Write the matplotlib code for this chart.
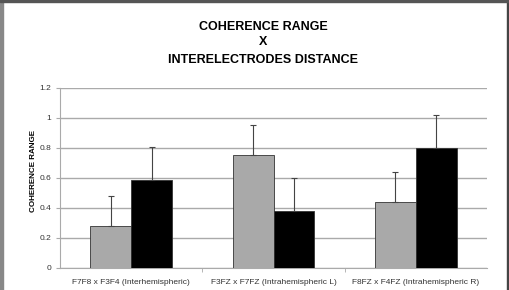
import numpy as np
import matplotlib.pyplot as plt
from matplotlib.patches import Rectangle

plt.rcParams['font.family'] = ['Liberation Sans', 'DejaVu Sans']

# data
groups = ['F7F8 x F3F4 (Interhemispheric)', 'F3FZ x F7FZ (Intrahemispheric L)',
          'F8FZ x F4FZ (Intrahemispheric R)']
grey_vals = [0.28, 0.75, 0.44]
grey_err = [0.20, 0.20, 0.20]
black_vals = [0.59, 0.38, 0.80]
black_err = [0.22, 0.22, 0.22]
yticks = [0, 0.2, 0.4, 0.6, 0.8, 1, 1.2]

fig = plt.figure(figsize=(5.1, 2.9), dpi=100)
ax = fig.add_axes([60/510, 22/290, 427/510, 180/290])

x = np.arange(len(groups))
w = 0.288
ekw = dict(ecolor='#444444', elinewidth=0.8, capsize=2.5, capthick=0.8)
ax.bar(x - w/2, grey_vals, w, color='#a9a9a9', edgecolor='#333333', lw=0.6,
       yerr=[np.zeros(3), grey_err], error_kw=ekw, zorder=3)
ax.bar(x + w/2, black_vals, w, color='black', edgecolor='#333333', lw=0.6,
       yerr=[np.zeros(3), black_err], error_kw=ekw, zorder=3)

ax.set_xlim(-0.5, 2.5)
ax.set_ylim(0, 1.2)
ax.set_yticks(yticks)
ax.set_yticklabels(['0', '0.2', '0.4', '0.6', '0.8', '1', '1.2'])
ax.yaxis.grid(True, color='#aaaaaa', lw=1.0, zorder=0)
ax.set_xticks(x)
ax.set_xticklabels(groups)
ax.set_xticks([0.5, 1.5], minor=True)
ax.tick_params(axis='x', which='major', length=0, labelsize=6, pad=8, colors='#333333')
ax.tick_params(axis='x', which='minor', length=3, color='#aaaaaa')
ax.tick_params(axis='y', length=3, color='#aaaaaa', labelsize=6, labelcolor='#333333')
for s in ['top', 'right']:
    ax.spines[s].set_visible(False)
for s in ['left', 'bottom']:
    ax.spines[s].set_color('#aaaaaa')
ax.set_ylabel('COHERENCE RANGE', fontsize=5.8, fontweight='bold')
ax.yaxis.set_label_coords(-0.055, 0.54)

fig.text(263/510, 1 - 27/290, 'COHERENCE RANGE', ha='center', va='center',
         fontsize=9, fontweight='bold')
fig.text(263/510, 1 - 42/290, 'X', ha='center', va='center', fontsize=9, fontweight='bold')
fig.text(263/510, 1 - 60/290, 'INTERELECTRODES DISTANCE', ha='center', va='center',
         fontsize=9, fontweight='bold')

# picture frame
fig.patches.append(Rectangle((0, 0), 3/510, 1, transform=fig.transFigure,
                             color='#888888', zorder=10))
fig.patches.append(Rectangle((507/510, 0), 1.5/510, 1, transform=fig.transFigure,
                             color='#444444', zorder=10))
fig.patches.append(Rectangle((0, 1 - 1.5/290), 1, 1.5/290, transform=fig.transFigure,
                             color='#555555', zorder=10))

fig.savefig('out.png', dpi=100)
